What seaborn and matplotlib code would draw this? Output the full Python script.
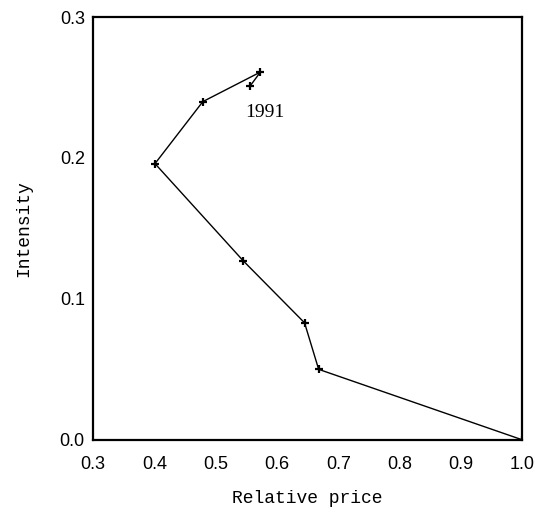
import matplotlib
matplotlib.use("Agg")
import matplotlib.pyplot as plt
import seaborn as sns
import pandas as pd

# data (path order, ending in 1991)
relative_price = [1.0, 0.668, 0.645, 0.545, 0.401, 0.479, 0.573, 0.556]
intensity = [0.0, 0.050, 0.083, 0.127, 0.196, 0.240, 0.261, 0.251]
x_ticks = [0.3, 0.4, 0.5, 0.6, 0.7, 0.8, 0.9, 1.0]
y_ticks = [0.0, 0.1, 0.2, 0.3]
label_text = "1991"
label_pos = (0.548, 0.232)

df = pd.DataFrame({"Relative price": relative_price, "Intensity": intensity,
                   "order": range(len(relative_price))})

sns.set_style("white")
fig = plt.figure(figsize=(5.35, 5.18), dpi=100)
ax = fig.add_axes([0.174, 0.151, 0.802, 0.816])

sns.lineplot(data=df, x="Relative price", y="Intensity", sort=False,
             color="black", linewidth=1.0, marker="+", markersize=6,
             markeredgewidth=1.6, markeredgecolor="black", ax=ax, estimator=None)

ax.set_xlim(0.3, 1.0)
ax.set_ylim(0.0, 0.3)
ax.set_xticks(x_ticks)
ax.set_yticks(y_ticks)
ax.set_xticklabels([f"{v:.1f}" for v in x_ticks], fontfamily="Liberation Sans", fontsize=13)
ax.set_yticklabels([f"{v:.1f}" for v in y_ticks], fontfamily="Liberation Sans", fontsize=13)
ax.tick_params(axis="x", direction="in", length=3, width=1, pad=12, colors="black")
ax.tick_params(axis="y", direction="out", length=4, width=1, pad=2, colors="black")

for s in ax.spines.values():
    s.set_color("black")
    s.set_linewidth(1.6)

ax.set_xlabel("Relative price", fontfamily="Liberation Mono", fontsize=13,
              labelpad=12, color="black")
ax.set_ylabel("Intensity", fontfamily="Liberation Mono", fontsize=13,
              labelpad=20, color="black")

ax.text(label_pos[0], label_pos[1], label_text, fontfamily="Liberation Serif",
        fontsize=14, color="black", ha="left", va="center")

fig.savefig("out.png", dpi=100, facecolor="white")
